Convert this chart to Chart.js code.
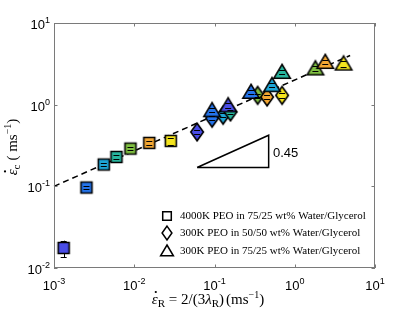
<!DOCTYPE html>
<html><head><meta charset="utf-8">
<script src="https://cdn.jsdelivr.net/npm/chart.js@4"></script>
<style>html,body{margin:0;padding:0;background:#fff}#wrap{width:415px;height:312px;position:relative}</style>
</head><body>
<div id="wrap"><canvas id="c"></canvas></div>
<script>
// ---- data ----
const xTicks=[1e-3,1e-2,1e-1,1e0,1e1];
const xTickExp=['-3','-2','-1','0','1'];
const yTicks=[1e-2,1e-1,1e0,1e1];
const yTickExp=['-2','-1','0','1'];

const sqX=[0.00132,0.00254,0.00417,0.0060,0.00897,0.0154,0.0285];
const sqY=[0.0176,0.0966,0.185,0.229,0.290,0.340,0.360];
const sqErr=[0.004,0.005,0.010,0.012,0.015,0.018,0.035];

const diaX=[0.0607,0.0933,0.128,0.158,0.345,0.452,0.695];
const diaY=[0.463,0.682,0.741,0.814,1.30,1.24,1.30];
const diaErr=[0.03,0.04,0.04,0.05,0.07,0.07,0.08];

const triX=[0.0933,0.148,0.286,0.521,0.695,1.81,2.40,4.06];
const triY=[0.853,0.98,1.43,1.73,2.51,2.77,3.33,3.18];
const triErr=[0.05,0.06,0.09,0.10,0.15,0.17,0.20,0.25];

const fitX=[0.001,4.9];
const fitY=[0.1,4.0];
const slopeX=[0.0607,0.473,0.473,0.0607];
const slopeY=[0.170,0.170,0.422,0.170];

const P='#4a4de6',B='#2474ec',C='#1ea5d6',T='#28b59e',G='#80c042',O='#f3a733',Y='#f4e41e';
const sqColors=[P,B,C,T,G,O,Y];
const diaColors=[P,B,C,T,G,O,Y];
const triColors=[B,P,B,C,T,G,O,Y];

const legendLabels=['4000K PEO in 75/25 wt% Water/Glycerol','300K PEO in 50/50 wt% Water/Glycerol','300K PEO in 75/25 wt% Water/Glycerol'];

// ---- markers ----
function shapePath(g,shape,cx,cy,k){
  g.beginPath();
  if(shape==='sq'){const h=5.5*k;g.rect(cx-h,cy-h,2*h,2*h);}
  else if(shape==='dia'){const hw=6.3*k,hh=8.8*k;g.moveTo(cx,cy-hh);g.lineTo(cx+hw,cy);g.lineTo(cx,cy+hh);g.lineTo(cx-hw,cy);g.closePath();}
  else {const hw=8.2*k,top=7.7*k,bot=6.2*k;g.moveTo(cx,cy-top);g.lineTo(cx+hw,cy+bot);g.lineTo(cx-hw,cy+bot);g.closePath();}
}
function marker(shape,fill){
  const s=24,cv=document.createElement('canvas');cv.width=s;cv.height=s;
  const g=cv.getContext('2d');
  shapePath(g,shape,s/2,s/2,1);
  g.fillStyle=fill;g.fill();g.lineWidth=1.6;g.strokeStyle='#000';g.lineJoin='miter';g.stroke();
  return cv;
}
function pts(xs,ys){return xs.map((x,i)=>({x:x,y:ys[i]}));}

// ---- rich text helper ----
function drawRich(ctx,parts,x,y,align){
  let w=0;
  parts.forEach(p=>{ctx.font=p.f;w+=ctx.measureText(p.t).width+(p.sp||0);});
  let cx=align==='center'?x-w/2:(align==='right'?x-w:x);
  ctx.textBaseline='alphabetic';ctx.textAlign='left';
  parts.forEach(p=>{ctx.font=p.f;ctx.fillText(p.t,cx+(p.dx||0),y+(p.dy||0));cx+=ctx.measureText(p.t).width+(p.sp||0);});
}
const SANS='"Liberation Sans", Arial, sans-serif';
const SERIF='"Liberation Serif","DejaVu Serif", serif';

const decor={
  id:'decor',
  beforeDatasetsDraw(chart){
    const ctx=chart.ctx,xs=chart.scales.x,ys=chart.scales.y;
    ctx.save();ctx.strokeStyle='#000';ctx.lineWidth=1;
    [[sqX,sqY,sqErr],[diaX,diaY,diaErr],[triX,triY,triErr]].forEach(([X,Yv,E])=>{
      X.forEach((xv,i)=>{
        const px=Math.round(xs.getPixelForValue(xv))+0.5;
        ctx.beginPath();ctx.moveTo(px,ys.getPixelForValue(Yv[i]+E[i]));ctx.lineTo(px,ys.getPixelForValue(Yv[i]-E[i]));ctx.stroke();
      });
    });
    ctx.restore();
  },
  afterDatasetsDraw(chart){
    const ctx=chart.ctx,xs=chart.scales.x,ys=chart.scales.y,a=chart.chartArea;
    ctx.save();
    // error caps
    ctx.strokeStyle='#000';ctx.lineWidth=1;
    [[sqX,sqY,sqErr],[diaX,diaY,diaErr],[triX,triY,triErr]].forEach(([X,Yv,E])=>{
      X.forEach((xv,i)=>{
        const px=xs.getPixelForValue(xv);
        [Yv[i]+E[i],Yv[i]-E[i]].forEach(v=>{const py=Math.round(ys.getPixelForValue(v))+0.5;ctx.beginPath();ctx.moveTo(px-3,py);ctx.lineTo(px+3,py);ctx.stroke();});
      });
    });
    // frame
    ctx.strokeStyle='#7a7a7a';ctx.lineWidth=1;
    ctx.strokeRect(a.left+0.5,a.top+0.5,a.right-a.left-1,a.bottom-a.top-1);
    // ticks
    const tl=3.5;
    xTicks.forEach(v=>{const px=Math.round(xs.getPixelForValue(v))+0.5;ctx.beginPath();ctx.moveTo(px,a.bottom);ctx.lineTo(px,a.bottom-tl);ctx.moveTo(px,a.top);ctx.lineTo(px,a.top+tl);ctx.stroke();});
    yTicks.forEach(v=>{const py=Math.round(ys.getPixelForValue(v))+0.5;ctx.beginPath();ctx.moveTo(a.left,py);ctx.lineTo(a.left+tl,py);ctx.moveTo(a.right,py);ctx.lineTo(a.right-tl,py);ctx.stroke();});
    // tick labels
    ctx.fillStyle='#000';
    xTicks.forEach((v,i)=>{const px=xs.getPixelForValue(v);
      drawRich(ctx,[{t:'10',f:'13px '+SANS},{t:xTickExp[i],f:'9px '+SANS,dy:-6}],px,290,'center');});
    yTicks.forEach((v,i)=>{const py=ys.getPixelForValue(v);
      drawRich(ctx,[{t:'10',f:'13px '+SANS},{t:yTickExp[i],f:'9px '+SANS,dy:-6}],50,py+6,'right');});
    // slope label
    ctx.font='13px '+SANS;ctx.textAlign='left';ctx.textBaseline='middle';ctx.fillText('0.45',273,153);
    // legend
    const lx=167,rows=[216,233,251],shapes=['sq','dia','tri'];
    rows.forEach((ry,i)=>{
      shapePath(ctx,shapes[i],lx,ry,0.78);ctx.fillStyle='#fff';ctx.fill();ctx.lineWidth=1.5;ctx.strokeStyle='#000';ctx.stroke();
      ctx.fillStyle='#000';ctx.font='11px '+SERIF;ctx.textAlign='left';ctx.textBaseline='middle';ctx.fillText(legendLabels[i],180,ry);
    });
    // x label
    const big='italic 15px '+SERIF,rom='15px '+SERIF,sub='11px '+SERIF,sup='10px '+SERIF;
    const xParts=[{t:'ε',f:big},{t:'R',f:sub,dy:3,sp:0},{t:' = 2/(3',f:rom},{t:'λ',f:big},{t:'R',f:sub,dy:3},{t:')',f:rom,sp:2},{t:'(ms',f:rom},{t:'−1',f:sup,dy:-6},{t:')',f:rom}];
    drawRich(ctx,xParts,208,304,'center');
    let wAll=0;xParts.forEach(p=>{ctx.font=p.f;wAll+=ctx.measureText(p.t).width+(p.sp||0);});
    ctx.font=big;const ew=ctx.measureText('ε').width;
    ctx.beginPath();ctx.arc(208-wAll/2+ew/2+1,292,1.1,0,Math.PI*2);ctx.fill();
    // y label
    ctx.save();ctx.translate(17,147);ctx.rotate(-Math.PI/2);
    const yParts=[{t:'ε',f:big},{t:'c',f:sub,dy:3,sp:4},{t:'( ms',f:rom},{t:'−1',f:sup,dy:-6},{t:')',f:rom}];
    drawRich(ctx,yParts,0,0,'center');
    let wy=0;yParts.forEach(p=>{ctx.font=p.f;wy+=ctx.measureText(p.t).width+(p.sp||0);});
    ctx.font=big;const ew2=ctx.measureText('ε').width;
    ctx.beginPath();ctx.arc(-wy/2+ew2/2+1,-12,1.1,0,Math.PI*2);ctx.fill();
    ctx.restore();
    ctx.restore();
  }
};

new Chart(document.getElementById('c'),{
  type:'scatter',
  data:{datasets:[
    {type:'line',data:pts(fitX,fitY),borderColor:'#000',borderWidth:1.5,borderDash:[6,4],pointRadius:0,order:10,clip:false},
    {type:'line',data:pts(slopeX,slopeY),borderColor:'#000',borderWidth:1.5,pointRadius:0,order:9,clip:false},
    {data:pts(sqX,sqY),pointStyle:sqColors.map(c=>marker('sq',c)),pointRadius:6,order:3,clip:false},
    {data:pts(diaX,diaY),pointStyle:diaColors.map(c=>marker('dia',c)),pointRadius:6,order:2,clip:false},
    {data:pts(triX,triY),pointStyle:triColors.map(c=>marker('tri',c)),pointRadius:6,order:1,clip:false}
  ]},
  options:{
    responsive:true,maintainAspectRatio:false,animation:false,events:[],
    layout:{padding:{left:54,right:40,top:23,bottom:44}},
    plugins:{legend:{display:false},tooltip:{enabled:false}},
    scales:{
      x:{type:'logarithmic',min:1e-3,max:10,display:false},
      y:{type:'logarithmic',min:1e-2,max:10,display:false}
    }
  },
  plugins:[decor]
});
</script>
</body></html>
